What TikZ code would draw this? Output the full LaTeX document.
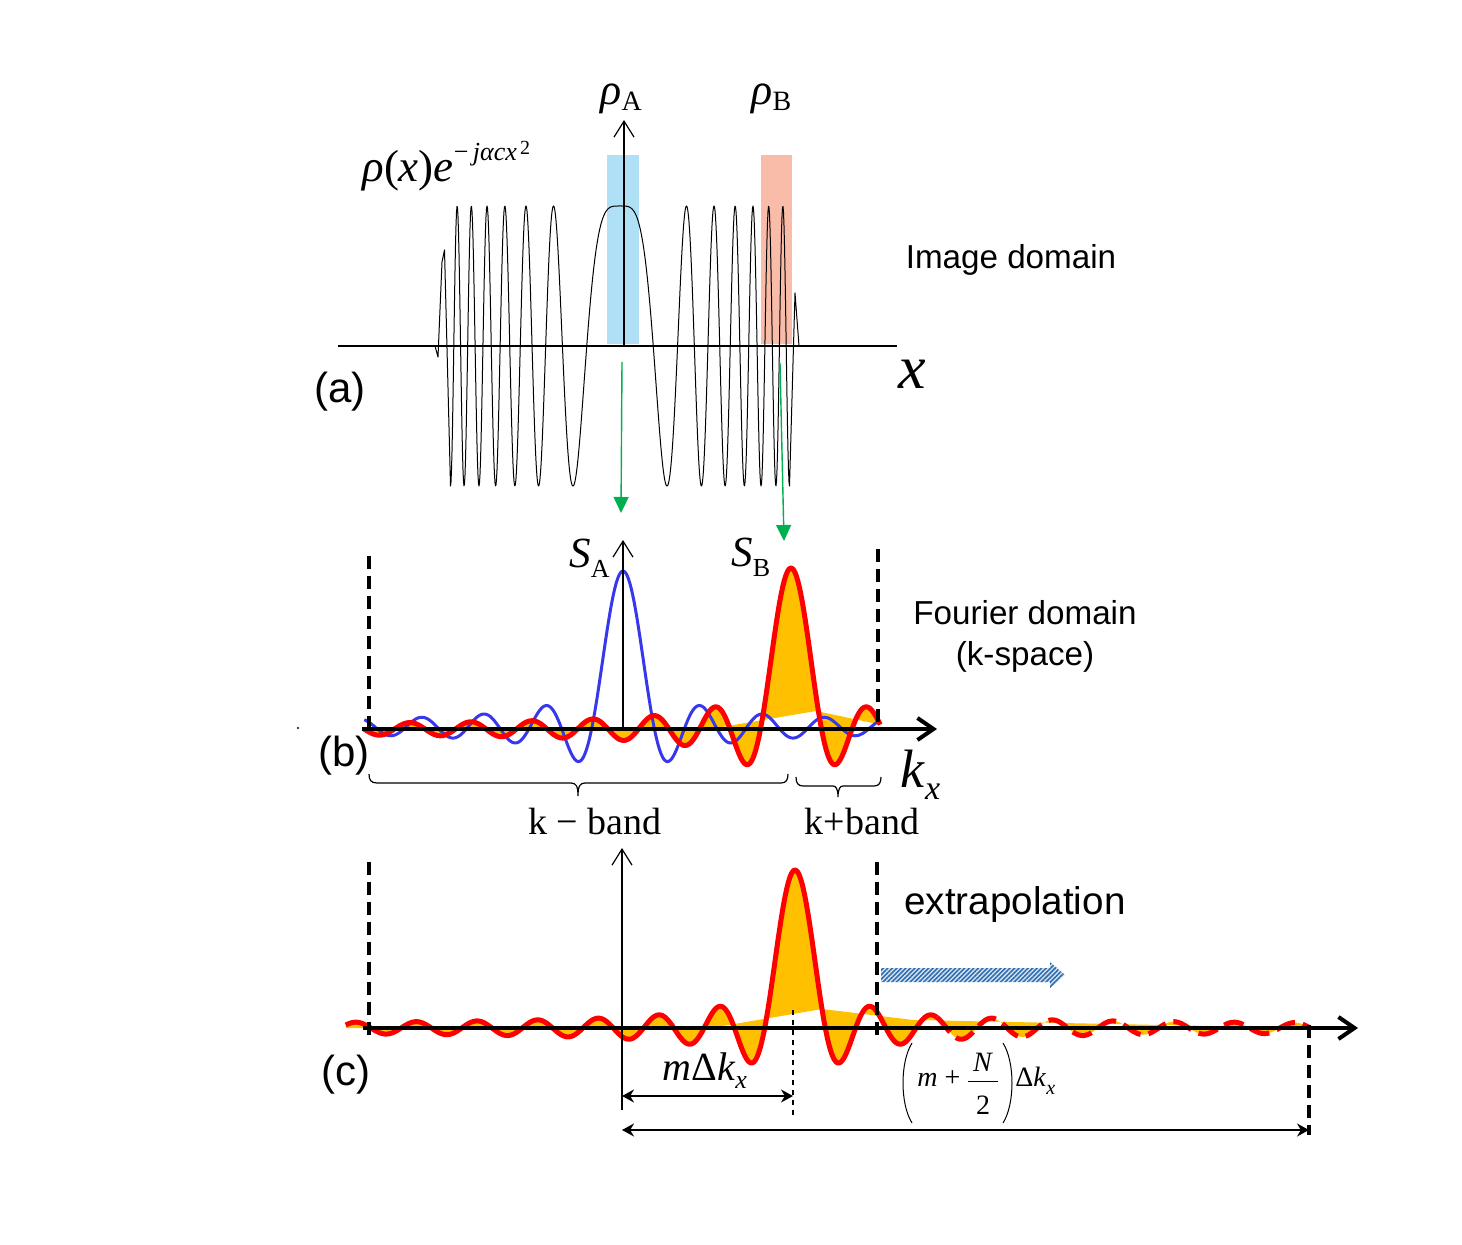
\documentclass[tikz,border=0pt]{standalone}
\usepackage{fontspec}
\newfontfamily\ars{Liberation Sans}
\newfontfamily\tms{Liberation Serif}
\newcommand\fsz[1]{\fontsize{#1}{#1}\selectfont}
\usetikzlibrary{arrows.meta,patterns.meta}
\definecolor{rectblue}{RGB}{176,224,246}
\definecolor{rectred}{RGB}{248,188,168}
\definecolor{grn}{RGB}{0,176,80}
\definecolor{orng}{RGB}{255,192,0}
\definecolor{redc}{RGB}{255,0,0}
\definecolor{bluec}{RGB}{55,55,235}
\definecolor{hatch}{RGB}{46,110,175}
\definecolor{hatchbg}{RGB}{215,228,243}
\begin{document}
\begin{tikzpicture}[x=0.5pt,y=-0.5pt,
  declare function={sincb(\x)=sin(180*\x)/(pi*\x)*(1+0.05*max(abs(\x)-1,0));
                    chirp(\x)=cos(8.145*((\x-620)/10)^2);},
  thinaxis/.style={line width=0.6pt,-{Straight Barb[length=8pt,width=10pt]}},
  thickaxis/.style={line width=2pt,-{Straight Barb[length=8pt,width=11pt]}},
  bounddash/.style={line width=1.7pt,dash pattern=on 6.5pt off 3.5pt},
  finedash/.style={line width=1.1pt,dash pattern=on 2.5pt off 2.5pt},
  redcurve/.style={draw=redc,line width=2.5pt,line join=round},
  bluecurve/.style={draw=bluec,line width=1.5pt,line join=round},
  greenarrow/.style={draw=grn,fill=grn,line width=0.7pt,-{Triangle[length=8pt,width=7.5pt]}},
  dimarrow/.style={line width=0.8pt,{Stealth[length=6pt,width=6.5pt]}-{Stealth[length=6pt,width=6.5pt]}},
  bracestyle/.style={line width=0.6pt},
  thinstroke/.style={line width=0.5pt},
  sanslbl/.style={font=\ars\fsz{21}},
  inner sep=0pt]
\useasboundingbox (0,0) rectangle (1462,1245);
\fill[white] (0,0) rectangle (1462,1245);

% ---------- (a) image domain ----------
\fill[rectblue] (607,155) rectangle (639,344);
\fill[rectred] (761,155) rectangle (792,344);
\draw[line width=0.5pt,line join=round] (435,346) -- (438,357) -- (442,262) -- (444.5,250)
  -- plot[domain=450.5:789.5,samples=679] (\x,{346-140*chirp(\x)})
  -- (795,293) -- (799,346);
\draw[line width=0.6pt] (338,346) -- (897,346);
\draw[thinaxis] (624,346) -- (624,120);
\coordinate (gA1) at (622,362); \coordinate (gA2) at (621,513);
\coordinate (gB1) at (780,363); \coordinate (gB2) at (784,541);
\draw[greenarrow] (gA1) -- (gA2);
\draw[greenarrow] (gB1) -- (gB2);

% ---------- (b) Fourier domain ----------
\fill[orng] plot[domain=364.25:880.25,samples=345] (\x,{729-161*sincb((\x-791)/30.5)})
  -- (816,711) -- (716,728) -- (364,729) -- cycle;
\draw[bluecurve] plot[domain=364.25:880.25,samples=345] (\x,{727-156*sincb((\x-623)/31)});
\draw[redcurve] plot[domain=364.25:880.25,samples=345] (\x,{729-161*sincb((\x-791)/30.5)});
\draw[thickaxis] (362,729) -- (937,729);
\draw[thinaxis] (623,729) -- (623,540);
\draw[bounddash] (369,556) -- (369,733);
\draw[bounddash] (878,549) -- (878,724);
\draw[bracestyle] (369,774) .. controls (369,780) and (371,783) .. (377,783) -- (571,783)
  .. controls (576,783) and (578,786) .. (578,796)
  .. controls (578,786) and (580,783) .. (585,783) -- (781,783)
  .. controls (786,783) and (788,780) .. (788,774);
\draw[bracestyle] (796,777) .. controls (796,783) and (798,786) .. (803,786) -- (833,786)
  .. controls (836,786) and (838,789) .. (838,797)
  .. controls (838,789) and (840,786) .. (843,786) -- (874,786)
  .. controls (879,786) and (881,783) .. (881,777);
\fill (298,728) circle (0.6pt);

% ---------- (c) extrapolation ----------
\fill[orng] plot[domain=345.75:1310.25,samples=644] (\x,{1028-158*sincb((\x-795)/30.3)})
  -- (1310,1028) -- (913,1020) -- (822,1009) -- (711,1028) -- (346,1028) -- cycle;
\draw[redcurve] plot[domain=345.75:936.75,samples=395] (\x,{1028-158*sincb((\x-795)/30.3)});
\draw[redcurve,dash pattern=on 10pt off 4pt] plot[domain=936.75:1310.25,samples=250] (\x,{1028-158*sincb((\x-795)/30.3)});
\draw[thickaxis] (363,1028) -- (1358,1028);
\draw[thinaxis] (622,1110) -- (622,848);
\draw[bounddash] (369,862) -- (369,1035);
\draw[bounddash] (877,862) -- (877,1035);
\draw[bounddash] (1309,1025) -- (1309,1135);
\draw[finedash] (793,1010) -- (793,1115);
\coordinate (d1) at (622,1096); \coordinate (d2) at (793,1096);
\coordinate (d3) at (622,1130); \coordinate (d4) at (1309,1130);
\draw[dimarrow] (d1) -- (d2);
\draw[dimarrow] (d3) -- (d4);
\path[fill=hatchbg] (881,968) -- (1050,968) -- (1050,962) -- (1065,975) -- (1050,988) -- (1050,982) -- (881,982) -- cycle;
\path[pattern={Lines[angle=45,distance=1.6pt,line width=0.8pt]},pattern color=hatch]
  (881,968) -- (1050,968) -- (1050,962) -- (1065,975) -- (1050,988) -- (1050,982) -- (881,982) -- cycle;

% ---------- labels ----------
\node[sanslbl] (la) at (340,392) {(a)};
\node[sanslbl] (lb) at (344,756) {(b)};
\node[sanslbl] (lc) at (346,1075) {(c)};
\node[font=\ars\fsz{16.6}] (imd) at (1011,260) {Image domain};
\node[font=\ars\fontsize{16.6}{20.5}\selectfont,align=center] (fd) at (1025,636) {Fourier domain\\(k-space)};
\node[font=\ars\fsz{19.3}] (ext) at (1015,905) {extrapolation};

\node[font=\tms,anchor=base west] (expr) at (362,182)
  {\fsz{22.5}\textit{ρ}(\textit{x})\textit{e}\raisebox{10.5pt}{\fsz{13}−\,\textit{jαcx}\raisebox{3pt}{\fsz{10}\,2}}};
\node[font=\tms,anchor=base west] (rhoA) at (600,105) {\fsz{22}\textit{ρ}\raisebox{-3pt}{\fsz{14}A}};
\node[font=\tms,anchor=base west] (rhoB) at (751,105) {\fsz{22}\textit{ρ}\raisebox{-3pt}{\fsz{14}B}};
\node[font=\tms,anchor=base west] (xlab) at (898,389) {\fsz{31}\textit{x}};
\node[font=\tms,anchor=base west] (SA) at (569,568) {\fsz{21.5}\textit{S}\raisebox{-5pt}{\fsz{13}A}};
\node[font=\tms,anchor=base west] (SB) at (731,567) {\fsz{21.5}\textit{S}\raisebox{-5pt}{\fsz{13}B}};
\node[font=\tms,anchor=base west] (kx) at (900,787) {\fsz{27}\textit{k}\raisebox{-6pt}{\fsz{17}\textit{x}}};
\node[font=\tms\fsz{19}] (kmb) at (595,822) {k − band};
\node[font=\tms\fsz{19}] (kpb) at (862,822) {k+band};
\node[font=\tms,anchor=base west] (mdk) at (662,1080) {\fsz{20}\textit{m}Δ\textit{k}\raisebox{-4pt}{\fsz{13}\textit{x}}};

% (m + N/2) Delta k_x
\draw[thinstroke] (912,1043) .. controls (900,1062) and (900,1104) .. (912,1123);
\draw[thinstroke] (1003,1043) .. controls (1015,1062) and (1015,1104) .. (1003,1123);
\node[font=\tms\fsz{14},anchor=base west] (mplus) at (917,1086) {\textit{m} +};
\draw[thinstroke] (968,1081) -- (998,1081);
\node[font=\tms\fsz{14},anchor=base] (numN) at (983,1071) {\textit{N}};
\node[font=\tms\fsz{14},anchor=base] (den2) at (983,1114) {2};
\node[font=\tms,anchor=base west] (dkx) at (1015,1086) {\fsz{14}Δ\textit{k}\raisebox{-4pt}{\fsz{10}\textit{x}}};
\end{tikzpicture}
\end{document}
